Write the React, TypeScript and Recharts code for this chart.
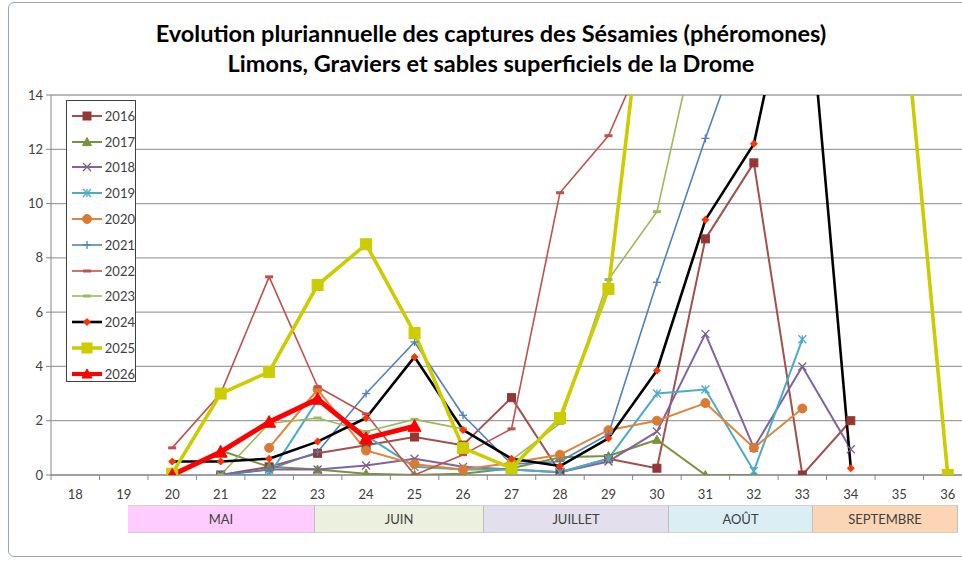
import { CartesianGrid, Line, LineChart, XAxis, YAxis } from 'recharts';

// semaines (axe X) et captures par année
const WEEKS = [18, 19, 20, 21, 22, 23, 24, 25, 26, 27, 28, 29, 30, 31, 32, 33, 34, 35, 36];

const V2016 = [null, null, null, 0, 0.3, 0.8, 1.1, 1.4, 1.1, 2.85, 0.1, 0.6, 0.25, 8.7, 11.5, 0, 2.0, null, null];
const V2017 = [null, null, null, 0.9, 0.3, 0.2, 0.05, 0, 0.05, 0.25, 0.65, 0.7, 1.3, 0, 0, null, null, null, null];
const V2018 = [null, null, null, 0, 0.2, 0.2, 0.35, 0.6, 0.3, 0.2, 0.1, 0.5, 1.6, 5.2, 1.0, 4.0, 0.95, null, null];
const V2019 = [null, null, null, 0, 0, 2.75, 1.45, 0.3, 0.2, 0.2, 0.1, 0.6, 3.0, 3.15, 0.15, 5.0, null, null, null];
const V2020 = [null, null, null, null, 1.0, 3.15, 0.9, 0.4, 0.2, 0.45, 0.75, 1.65, 2.0, 2.65, 1.0, 2.45, null, null, null];
const V2021 = [null, null, null, 0, 0.2, 0.85, 3.0, 4.9, 2.2, 0.4, 0.5, 1.5, 7.1, 12.4, 17.4, null, null, null, null];
const V2022 = [null, null, 1.0, 3.0, 7.3, 3.25, 2.25, 0, 0.75, 1.7, 10.4, 12.5, 16.6, null, null, null, null, null, null];
const V2023 = [null, null, null, 0, 1.9, 2.1, 1.6, 2.05, 1.7, 0.55, 1.9, 7.2, 9.7, 17.7, null, null, null, null, null];
const V2024 = [null, null, 0.5, 0.5, 0.6, 1.23, 2.1, 4.35, 1.66, 0.6, 0.33, 1.35, 3.85, 9.4, 12.2, 20.5, 0.25, null, null];
const V2025 = [null, null, 0.05, 3.0, 3.8, 7.0, 8.5, 5.23, 1.0, 0.25, 2.1, 6.85, 22, 30, 34, 30, 26, 19, 0];
const V2026 = [null, null, 0, 0.85, 1.95, 2.8, 1.35, 1.8, null, null, null, null, null, null, null, null, null, null, null];

const Y_TICKS = [0, 2, 4, 6, 8, 10, 12, 14];

const MONTHS = ['MAI', 'JUIN', 'JUILLET', 'AOÛT', 'SEPTEMBRE'];
const MONTH_COLORS = ['#FFCCFF', '#EBF1DE', '#E4DFEC', '#DAEEF3', '#FCD5B4'];
const MONTH_WIDTHS = [187, 169, 185, 144, 145];

type Shape = 'square' | 'triangle' | 'x' | 'star' | 'circle' | 'plus' | 'dash' | 'diamond';

interface SeriesDef {
  name: string;
  values: (number | null)[];
  stroke: string;
  width: number;
  shape: Shape;
  marker: string;
  size: number;
}

const SERIES: SeriesDef[] = [
  { name: '2016', values: V2016, stroke: '#A4504E', width: 2, shape: 'square', marker: '#953735', size: 8 },
  { name: '2017', values: V2017, stroke: '#77933C', width: 2, shape: 'triangle', marker: '#77933C', size: 9 },
  { name: '2018', values: V2018, stroke: '#8064A2', width: 2, shape: 'x', marker: '#7F6084', size: 8 },
  { name: '2019', values: V2019, stroke: '#4BACC6', width: 2, shape: 'star', marker: '#4BACC6', size: 8 },
  { name: '2020', values: V2020, stroke: '#E0853A', width: 2, shape: 'circle', marker: '#DB7B33', size: 9 },
  { name: '2021', values: V2021, stroke: '#4F81BD', width: 1.6, shape: 'plus', marker: '#4F81BD', size: 8 },
  { name: '2022', values: V2022, stroke: '#C0504D', width: 1.6, shape: 'dash', marker: '#C0504D', size: 8 },
  { name: '2023', values: V2023, stroke: '#9BBB59', width: 1.6, shape: 'dash', marker: '#9BBB59', size: 8 },
  { name: '2024', values: V2024, stroke: '#000000', width: 2.6, shape: 'diamond', marker: '#FF3300', size: 8 },
  { name: '2025', values: V2025, stroke: '#CCCC00', width: 3.6, shape: 'square', marker: '#CCCC00', size: 11 },
  { name: '2026', values: V2026, stroke: '#FF0000', width: 5, shape: 'triangle', marker: '#FF0000', size: 13 },
];

const data = WEEKS.map((w, i) => {
  const row: Record<string, number | string | null> = { week: String(w) };
  SERIES.forEach(s => { row[s.name] = s.values[i]; });
  return row;
});

// géométrie de la zone de tracé
const CHART_W = 990;
const CHART_H = 510;
const PLOT_LEFT = 51;
const PLOT_RIGHT = 972;
const PLOT_TOP = 95;
const PLOT_BOTTOM = 475;
const Y_AXIS_W = 45;
const X_AXIS_H = 30;
const STEP = (PLOT_RIGHT - PLOT_LEFT) / WEEKS.length;

const FONT = 'Lato, "Open Sans", sans-serif';

function Marker({ shape, cx, cy, color, size }: { shape: Shape; cx: number; cy: number; color: string; size: number }) {
  const h = size / 2;
  switch (shape) {
    case 'square':
      return <rect x={cx - h} y={cy - h} width={size} height={size} fill={color} stroke={color} />;
    case 'triangle':
      return <polygon points={`${cx},${cy - h} ${cx + h},${cy + h * 0.8} ${cx - h},${cy + h * 0.8}`} fill={color} stroke={color} />;
    case 'circle':
      return <circle cx={cx} cy={cy} r={h} fill={color} stroke={color} />;
    case 'diamond':
      return <polygon points={`${cx},${cy - h} ${cx + h},${cy} ${cx},${cy + h} ${cx - h},${cy}`} fill={color} />;
    case 'x':
      return (
        <g stroke={color} strokeWidth={1.3}>
          <line x1={cx - h} y1={cy - h} x2={cx + h} y2={cy + h} />
          <line x1={cx - h} y1={cy + h} x2={cx + h} y2={cy - h} />
        </g>
      );
    case 'star':
      return (
        <g stroke={color} strokeWidth={1.3}>
          <line x1={cx - h} y1={cy - h} x2={cx + h} y2={cy + h} />
          <line x1={cx - h} y1={cy + h} x2={cx + h} y2={cy - h} />
          <line x1={cx} y1={cy - h} x2={cx} y2={cy + h} />
        </g>
      );
    case 'plus':
      return (
        <g stroke={color} strokeWidth={1.3}>
          <line x1={cx - h} y1={cy} x2={cx + h} y2={cy} />
          <line x1={cx} y1={cy - h} x2={cx} y2={cy + h} />
        </g>
      );
    case 'dash':
      return <rect x={cx - h} y={cy - 1.5} width={size} height={3} fill={color} />;
  }
  return null;
}

const makeDot = (s: SeriesDef) => (props: any) => {
  const { cx, cy, index, value } = props;
  if (cx == null || cy == null || value == null) return <g key={`${s.name}-${index}`} />;
  return (
    <g key={`${s.name}-${index}`}>
      <Marker shape={s.shape} cx={cx} cy={cy} color={s.marker} size={s.size} />
    </g>
  );
};

// étiquette de semaine + graduation entre les catégories (comme Excel)
function WeekTick(props: any) {
  const { x, payload, index } = props;
  return (
    <g>
      <line x1={x + STEP / 2} y1={PLOT_BOTTOM} x2={x + STEP / 2} y2={PLOT_BOTTOM + 5} stroke="#868686" />
      {index === 0 && <line x1={x - STEP / 2} y1={PLOT_BOTTOM} x2={x - STEP / 2} y2={PLOT_BOTTOM + 5} stroke="#868686" />}
      <text x={x} y={PLOT_BOTTOM + 24} textAnchor="middle" fill="#404040" fontSize={13} fontFamily={FONT}>
        {payload.value}
      </text>
    </g>
  );
}

function LegendBox() {
  return (
    <div
      style={{
        position: 'absolute', left: 66, top: 100, width: 70, height: 282,
        border: '1px solid #404040', background: '#fff', boxSizing: 'border-box',
        paddingTop: 2,
      }}
    >
      {SERIES.map(s => (
        <div key={s.name} style={{ height: 25.8, display: 'flex', alignItems: 'center' }}>
          <svg width={34} height={16} style={{ marginLeft: 3 }}>
            <line x1={2} y1={8} x2={32} y2={8} stroke={s.stroke} strokeWidth={Math.min(s.width, 4)} />
            <Marker shape={s.shape} cx={17} cy={8} color={s.marker} size={Math.min(s.size, 10)} />
          </svg>
          <span style={{ fontFamily: FONT, fontSize: 13, color: '#404040', marginLeft: 1 }}>{s.name}</span>
        </div>
      ))}
    </div>
  );
}

export default function App() {
  return (
    <div style={{ position: 'absolute', left: 0, top: 0, width: 962, height: 565, overflow: 'hidden', background: '#fff' }}>
      <div
        style={{
          position: 'absolute', left: 8, top: 2, width: 960, height: 555,
          border: '1px solid #8EA9C8', borderRadius: 6, boxSizing: 'border-box',
        }}
      />
      <div
        style={{
          position: 'absolute', left: 0, top: 18, width: 982, textAlign: 'center',
          fontFamily: FONT, fontWeight: 700, fontSize: 23.5, lineHeight: '30px', color: '#000',
        }}
      >
        <div>Evolution pluriannuelle des captures des Sésamies (phéromones)</div>
        <div>Limons, Graviers et sables superficiels de la Drome</div>
      </div>

      <div style={{ position: 'absolute', left: 0, top: 0 }}>
        <LineChart
          width={CHART_W}
          height={CHART_H}
          data={data}
          margin={{
            top: PLOT_TOP,
            left: PLOT_LEFT - Y_AXIS_W,
            right: CHART_W - PLOT_RIGHT,
            bottom: CHART_H - PLOT_BOTTOM - X_AXIS_H,
          }}
        >
          <CartesianGrid horizontal vertical={false} stroke="#A0A0A0" strokeWidth={1.3} />
          <XAxis
            dataKey="week"
            height={X_AXIS_H}
            padding={{ left: STEP / 2, right: STEP / 2 }}
            interval={0}
            tickLine={false}
            axisLine={{ stroke: '#868686' }}
            tick={<WeekTick />}
          />
          <YAxis
            width={Y_AXIS_W}
            domain={[0, 14]}
            ticks={Y_TICKS}
            allowDataOverflow
            tickSize={5}
            tickMargin={3}
            axisLine={{ stroke: '#868686' }}
            tickLine={{ stroke: '#868686' }}
            tick={{ fill: '#404040', fontSize: 13, fontFamily: FONT }}
          />
          {SERIES.map(s => (
            <Line
              key={s.name}
              dataKey={s.name}
              stroke={s.stroke}
              strokeWidth={s.width}
              dot={makeDot(s)}
              activeDot={false}
              isAnimationActive={false}
              strokeLinejoin="round"
            />
          ))}
        </LineChart>
      </div>

      <LegendBox />

      <div style={{ position: 'absolute', left: 128, top: 505, height: 28, display: 'flex' }}>
        {MONTHS.map((m, i) => (
          <div
            key={m}
            style={{
              width: MONTH_WIDTHS[i], height: 28, background: MONTH_COLORS[i],
              borderRight: '1px solid #BFBFBF', borderTop: '1px solid #D0D0D0', borderBottom: '1px solid #D0D0D0',
              boxSizing: 'border-box', display: 'flex', alignItems: 'center', justifyContent: 'center',
              fontFamily: FONT, fontSize: 13, color: '#404040',
            }}
          >
            {m}
          </div>
        ))}
      </div>
    </div>
  );
}
